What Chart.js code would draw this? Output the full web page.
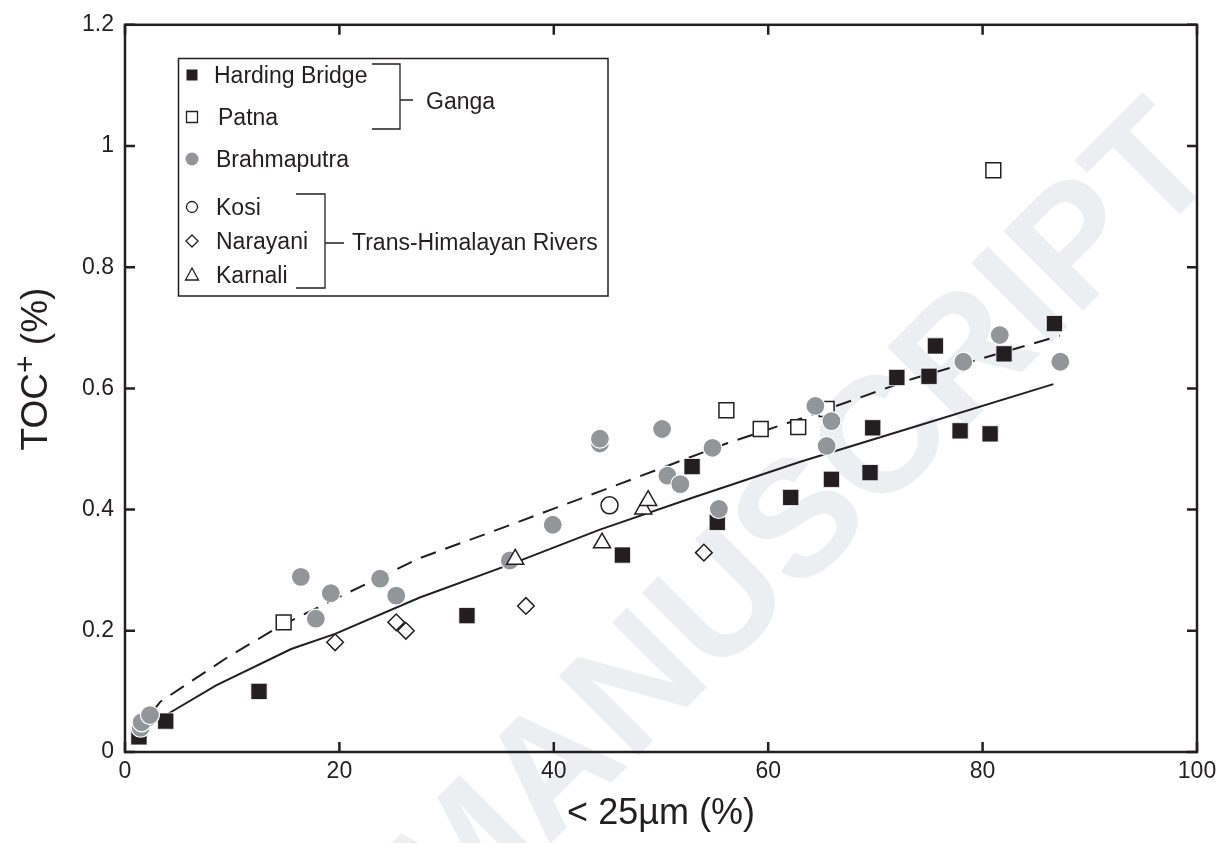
<!DOCTYPE html>
<html>
<head>
<meta charset="utf-8">
<script src="https://cdn.jsdelivr.net/npm/chart.js@4.4.1/dist/chart.umd.min.js"></script>
<style>
  body { margin: 0; background: #fff; }
  #wrap { width: 1228px; height: 843px; }
</style>
</head>
<body>
<div id="wrap"><canvas id="myChart" width="1228" height="843"></canvas></div>
<script>
var seriesNames = ['Harding Bridge', 'Patna', 'Brahmaputra', 'Kosi', 'Narayani', 'Karnali'];
var groupNames = ['Ganga', 'Trans-Himalayan Rivers'];

var hardingX = [1.3, 3.8, 12.5, 31.9, 46.4, 52.9, 55.25, 62.1, 65.9, 69.5, 69.75, 72.0, 75.0, 75.6, 77.9, 80.7, 82.0, 86.7];
var hardingY = [0.025, 0.051, 0.100, 0.225, 0.325, 0.471, 0.379, 0.420, 0.450, 0.461, 0.535, 0.618, 0.620, 0.670, 0.530, 0.525, 0.657, 0.707];

var patnaX = [14.8, 56.1, 59.3, 62.8, 65.45, 81.0];
var patnaY = [0.214, 0.564, 0.533, 0.536, 0.566, 0.960];

var brahmaX = [1.46, 1.55, 2.33, 16.4, 17.8, 19.2, 23.8, 25.3, 35.9, 39.9, 44.3, 44.3, 50.1, 50.6, 51.8, 54.8, 55.4, 64.4, 65.9, 65.45, 78.2, 81.6, 87.25];
var brahmaY = [0.040, 0.049, 0.061, 0.289, 0.220, 0.262, 0.286, 0.258, 0.316, 0.375, 0.509, 0.517, 0.533, 0.456, 0.442, 0.502, 0.401, 0.571, 0.546, 0.505, 0.644, 0.688, 0.644];

var kosiX = [45.2];
var kosiY = [0.407];

var narayaniX = [19.6, 25.3, 26.2, 37.4, 54.0];
var narayaniY = [0.181, 0.214, 0.200, 0.241, 0.329];

var karnaliX = [36.4, 44.5, 48.35, 48.8];
var karnaliY = [0.318, 0.345, 0.401, 0.415];

// fitted curves
var solidX = [1.5, 4.3, 8.5, 15.5, 19.6, 27.5, 36, 44.3, 53, 63, 73.5, 86.6];
var solidY = [0.035, 0.066, 0.11, 0.17, 0.195, 0.255, 0.31, 0.367, 0.42, 0.479, 0.536, 0.607];
var dashX = [2.5, 3.3, 9.8, 14.5, 20, 27.5, 36, 44.3, 56.1, 63, 73.5, 87.2];
var dashY = [0.065, 0.083, 0.159, 0.208, 0.256, 0.32, 0.375, 0.43, 0.509, 0.55, 0.616, 0.687];

var xTicks = [0, 20, 40, 60, 80, 100];
var xTickLabels = ['0', '20', '40', '60', '80', '100'];
var yTicks = [0, 0.2, 0.4, 0.6, 0.8, 1, 1.2];
var yTickLabels = ['0', '0.2', '0.4', '0.6', '0.8', '1', '1.2'];

var ink = '#231f20';
var grey = '#939598';
var fontFam = "'Liberation Sans', Arial, Helvetica, sans-serif";

function pts(xs, ys) {
    return xs.map(function (x, i) { return { x: x, y: ys[i] }; });
}

function legendMark(ctx, style, x, y) {
    ctx.save();
    ctx.lineWidth = 1.3;
    ctx.strokeStyle = ink;
    ctx.beginPath();
    if (style === 'fillsq') {
        ctx.fillStyle = ink;
        ctx.fillRect(x - 5.5, y - 5.5, 11, 11);
    } else if (style === 'opensq') {
        ctx.fillStyle = '#fff';
        ctx.rect(x - 5.5, y - 5.5, 11, 11);
        ctx.fill(); ctx.stroke();
    } else if (style === 'greydot') {
        ctx.fillStyle = grey;
        ctx.arc(x, y, 6.5, 0, Math.PI * 2);
        ctx.fill();
    } else if (style === 'opendot') {
        ctx.arc(x, y, 5.5, 0, Math.PI * 2);
        ctx.stroke();
    } else if (style === 'diamond') {
        ctx.moveTo(x, y - 6); ctx.lineTo(x + 6, y); ctx.lineTo(x, y + 6); ctx.lineTo(x - 6, y);
        ctx.closePath(); ctx.stroke();
    } else if (style === 'tri') {
        ctx.moveTo(x, y - 7); ctx.lineTo(x + 6.5, y + 5); ctx.lineTo(x - 6.5, y + 5);
        ctx.closePath(); ctx.stroke();
    }
    ctx.restore();
}

var decor = {
    id: 'decor',
    beforeDraw: function (chart) {
        // faint manuscript watermark behind the plot
        var ctx = chart.ctx;
        ctx.save();
        ctx.translate(805, 525);
        ctx.rotate(-Math.PI / 4);
        ctx.font = 'bold 164px ' + fontFam;
        ctx.fillStyle = '#eceef2';
        ctx.textAlign = 'center';
        ctx.textBaseline = 'middle';
        ctx.fillText('MANUSCRIPT', 0, 0);
        ctx.restore();
    },
    afterDraw: function (chart) {
        var ctx = chart.ctx;
        var a = chart.chartArea;
        var xs = chart.scales.x, ys = chart.scales.y;
        ctx.save();
        ctx.strokeStyle = ink;
        ctx.lineWidth = 2.5;
        ctx.strokeRect(a.left, a.top, a.right - a.left, a.bottom - a.top);
        ctx.beginPath();
        xTicks.forEach(function (v) {
            var px = xs.getPixelForValue(v);
            ctx.moveTo(px, a.bottom); ctx.lineTo(px, a.bottom - 10);
            ctx.moveTo(px, a.top); ctx.lineTo(px, a.top + 10);
        });
        yTicks.forEach(function (v) {
            var py = ys.getPixelForValue(v);
            ctx.moveTo(a.left, py); ctx.lineTo(a.left + 10, py);
            ctx.moveTo(a.right, py); ctx.lineTo(a.right - 10, py);
        });
        ctx.stroke();

        // y axis title with superscript
        ctx.translate(0, 369);
        ctx.rotate(-Math.PI / 2);
        ctx.fillStyle = ink;
        ctx.textBaseline = 'alphabetic';
        var big = '37px ' + fontFam, small = '30px ' + fontFam;
        ctx.font = big;
        var w1 = ctx.measureText('TOC').width;
        var w3 = ctx.measureText(' (%)').width;
        ctx.font = small;
        var w2 = ctx.measureText('+').width;
        var sx = -(w1 + w2 + w3) / 2;
        ctx.font = big;
        ctx.fillText('TOC', sx, 47);
        ctx.font = small;
        ctx.fillText('+', sx + w1, 35);
        ctx.font = big;
        ctx.fillText(' (%)', sx + w1 + w2, 47);
        ctx.restore();

        // legend box
        ctx.save();
        ctx.fillStyle = '#fff';
        ctx.fillRect(178.5, 58.5, 429.5, 237.5);
        ctx.strokeStyle = ink;
        ctx.lineWidth = 1.5;
        ctx.strokeRect(178.5, 58.5, 429.5, 237.5);
        var styles = ['fillsq', 'opensq', 'greydot', 'opendot', 'diamond', 'tri'];
        var rowsY = [75, 117, 159, 207, 241, 275];
        var textX = [214, 218, 216, 216, 216, 216];
        ctx.font = '23px ' + fontFam;
        ctx.fillStyle = ink;
        ctx.textBaseline = 'alphabetic';
        for (var i = 0; i < seriesNames.length; i++) {
            legendMark(ctx, styles[i], 192, rowsY[i]);
            ctx.fillStyle = ink;
            ctx.fillText(seriesNames[i], textX[i], rowsY[i] + 8.2);
        }
        ctx.lineWidth = 1.3;
        ctx.beginPath();
        ctx.moveTo(372, 64); ctx.lineTo(400, 64); ctx.lineTo(400, 129); ctx.lineTo(372, 129);
        ctx.moveTo(400, 100); ctx.lineTo(413, 100);
        ctx.moveTo(296, 194); ctx.lineTo(325, 194); ctx.lineTo(325, 288); ctx.lineTo(296, 288);
        ctx.moveTo(325, 243); ctx.lineTo(344, 243);
        ctx.stroke();
        ctx.fillText(groupNames[0], 426, 101 + 8.2);
        ctx.fillText(groupNames[1], 352, 242 + 8.2);
        ctx.restore();
    }
};

var ctx = document.getElementById('myChart').getContext('2d');
var myChart = new Chart(ctx, {
    type: 'scatter',
    data: {
        datasets: [{
            label: 'fit',
            type: 'line',
            data: pts(solidX, solidY),
            borderColor: ink,
            borderWidth: 2,
            pointRadius: 0,
            fill: false,
            tension: 0,
            order: 10
        }, {
            label: 'fit (dashed)',
            type: 'line',
            data: pts(dashX, dashY),
            borderColor: ink,
            borderWidth: 2,
            borderDash: [16, 10],
            pointRadius: 0,
            fill: false,
            tension: 0,
            order: 9
        }, {
            label: seriesNames[1],
            data: pts(patnaX, patnaY),
            pointStyle: 'rect',
            pointRadius: 10.5,
            backgroundColor: '#fff',
            borderColor: ink,
            borderWidth: 1.5,
            order: 6
        }, {
            label: seriesNames[0],
            data: pts(hardingX, hardingY),
            pointStyle: 'rect',
            pointRadius: 11.5,
            backgroundColor: ink,
            borderColor: '#fff',
            borderWidth: 0.8,
            order: 5
        }, {
            label: seriesNames[2],
            data: pts(brahmaX, brahmaY),
            pointStyle: 'circle',
            pointRadius: 9.5,
            backgroundColor: grey,
            borderColor: '#fff',
            borderWidth: 1.2,
            order: 4
        }, {
            label: seriesNames[4],
            data: pts(narayaniX, narayaniY),
            pointStyle: 'rectRot',
            pointRadius: 8.3,
            backgroundColor: '#fff',
            borderColor: ink,
            borderWidth: 1.5,
            order: 3
        }, {
            label: seriesNames[3],
            data: pts(kosiX, kosiY),
            pointStyle: 'circle',
            pointRadius: 8.5,
            backgroundColor: '#fff',
            borderColor: ink,
            borderWidth: 1.5,
            order: 2
        }, {
            label: seriesNames[5],
            data: pts(karnaliX, karnaliY),
            pointStyle: 'triangle',
            pointRadius: 9.8,
            backgroundColor: '#fff',
            borderColor: ink,
            borderWidth: 1.5,
            order: 1
        }]
    },
    options: {
        responsive: false,
        animation: false,
        layout: { padding: { top: 20, right: 31, left: 0, bottom: 0 } },
        plugins: {
            legend: { display: false },
            tooltip: { enabled: false }
        },
        scales: {
            x: {
                type: 'linear',
                position: 'bottom',
                min: 0,
                max: 100,
                afterFit: function (s) { s.height = 91; },
                afterBuildTicks: function (s) { s.ticks = xTicks.map(function (v) { return { value: v }; }); },
                ticks: {
                    callback: function (v) { return xTickLabels[xTicks.indexOf(v)]; },
                    font: { family: fontFam, size: 23 },
                    color: ink,
                    padding: 6,
                    maxRotation: 0,
                    autoSkip: false
                },
                grid: { display: false, drawTicks: false },
                border: { display: false },
                title: {
                    display: true,
                    text: '< 25µm (%)',
                    font: { family: fontFam, size: 36 },
                    color: ink,
                    padding: { top: 0, bottom: 7 }
                }
            },
            y: {
                type: 'linear',
                min: 0,
                max: 1.2,
                afterFit: function (s) { s.width = 125; },
                afterBuildTicks: function (s) { s.ticks = yTicks.map(function (v) { return { value: v }; }); },
                ticks: {
                    callback: function (v) { return yTickLabels[yTicks.indexOf(v)]; },
                    font: { family: fontFam, size: 23 },
                    color: ink,
                    padding: 11,
                    autoSkip: false
                },
                grid: { display: false, drawTicks: false },
                border: { display: false }
            }
        }
    },
    plugins: [decor]
});
</script>
</body>
</html>
